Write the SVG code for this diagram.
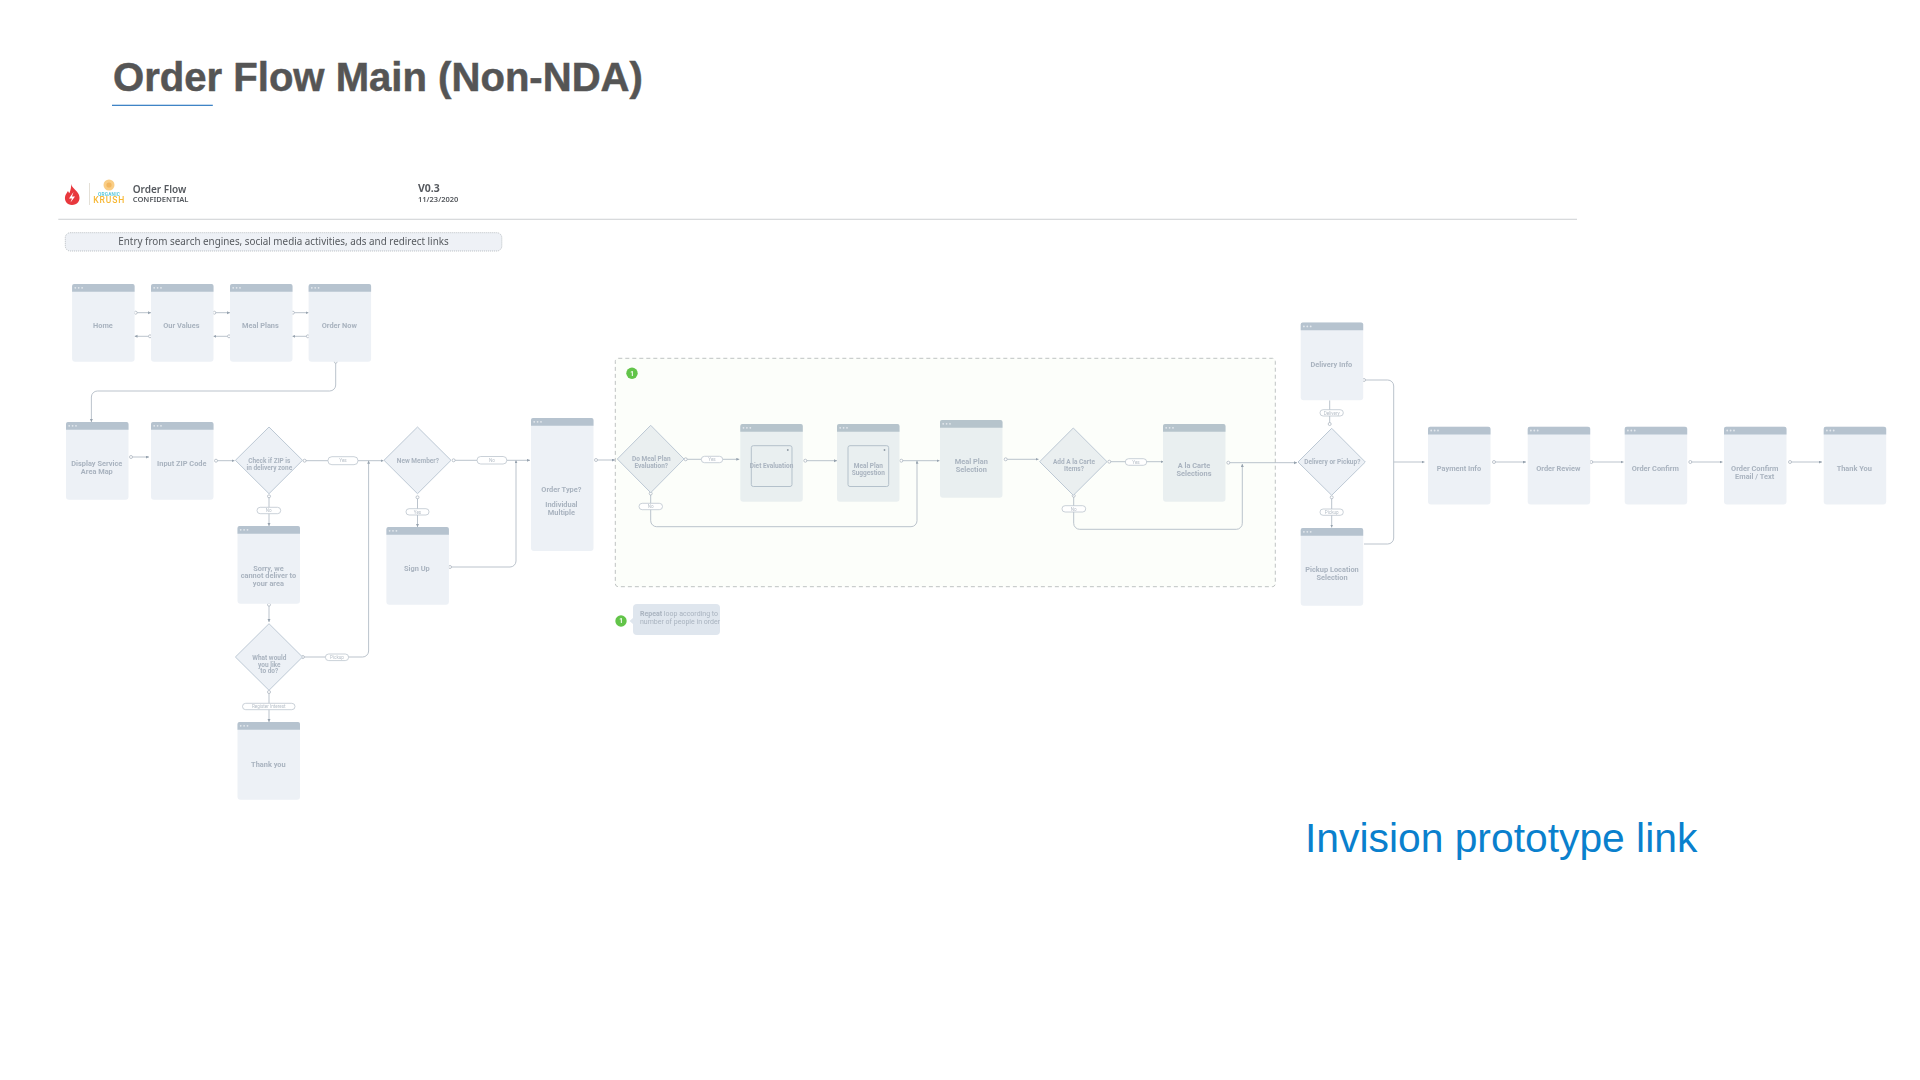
<svg xmlns="http://www.w3.org/2000/svg" width="1920" height="1080" viewBox="0 0 1920 1080">
<style>
text{font-family:"Roboto","Liberation Sans",sans-serif}
.t{font-size:7.4px;font-weight:700;fill:#a9b3bf;text-anchor:middle}
.d{font-size:6.5px;font-weight:700;fill:#a9b3bf;text-anchor:middle}
.c{fill:none;stroke:#b3bcc6;stroke-width:.9;marker-start:url(#o);marker-end:url(#a)}
.n{marker-end:none}
.p{fill:#fff;stroke:#bcc5ce;stroke-width:.8}
.l{font-size:4.6px;fill:#b8c0c9;text-anchor:middle}
.dia{fill:#edf1f6;stroke:#bcc8d4;stroke-width:1;stroke-linejoin:round}
.dt{fill:#eaeff0}
.title{font-family:"Liberation Sans",Arial,sans-serif;font-size:40.100px;font-weight:700;fill:#555;stroke:#555;stroke-width:.5}
.link{font-family:"Liberation Sans",Arial,sans-serif;font-size:40.800px;fill:#0a80cd}
.h{font-family:"Noto Sans","Liberation Sans",sans-serif;fill:#55595e}
.soft{filter:url(#soft)}
</style>
<defs>
<filter id="soft" filterUnits="userSpaceOnUse" x="0" y="0" width="1920" height="1080"><feGaussianBlur stdDeviation=".35"/></filter>
<marker id="a" markerUnits="userSpaceOnUse" markerWidth="4" markerHeight="4" refX="3" refY="1.5" orient="auto"><path d="M0 0L3 1.500L0 3z" fill="#96a2ae"/></marker>
<marker id="o" markerUnits="userSpaceOnUse" markerWidth="5" markerHeight="5" refX="2.500" refY="2.500" orient="auto"><circle cx="2.500" cy="2.500" r="1.500" fill="#fff" stroke="#a5afba" stroke-width=".7"/></marker>
<g id="bar"><circle cx="3.200" cy="3.800" r=".9"/><circle cx="6.600" cy="3.800" r=".9"/><circle cx="10" cy="3.800" r=".9"/></g>
<g id="screen"><rect width="62.500" height="77.700" rx="3" fill="#edf1f6"/><path d="M0 7.700V2a2 2 0 0 1 2-2h58.500a2 2 0 0 1 2 2v5.700z" fill="#b6c3cf"/><use href="#bar" fill="#e3e8ed"/></g>
<g id="tint"><rect width="62.500" height="77.700" rx="3" fill="#e9eff0"/><path d="M0 7.700V2a2 2 0 0 1 2-2h58.500a2 2 0 0 1 2 2v5.700z" fill="#b6c4cc"/><use href="#bar" fill="#e3e8ed"/></g>
<g id="panel"><rect x="11" y="21.700" width="40.700" height="40.800" rx="2" fill="none" stroke="#b4c1cb" stroke-width="1"/><circle cx="47.500" cy="26" r=".9" fill="#8e99a3"/></g>
</defs>
<rect width="1920" height="1080" fill="#fff"/>

<g id="title">
<text class="title" x="113" y="90.700">Order Flow Main (Non-NDA)</text>
<rect x="112" y="104.700" width="100.800" height="1.300" fill="#3f84c6"/>
</g>

<g id="diagram" class="soft">
<g id="header">
<path d="M71 184c1 4 6 6 8 11c2 6-2 10-7 10c-5 0-7.500-4-7-8c.5-3 2-4 3-6c.5 1 1 2 1.500 2c1-3 2-6 1.500-9z" fill="#e8383d"/>
<path d="M73.500 192l-4.500 6.500h3l-1.500 4l4.500-6h-3z" fill="#fff"/>
<rect x="89" y="183" width=".7" height="22" fill="#d9d3c6"/>
<circle cx="109" cy="185" r="5.500" fill="#f9cd85"/><circle cx="109" cy="185" r="2.600" fill="#f2b65e"/>
<text x="109" y="196" text-anchor="middle" font-size="4.800" font-weight="700" letter-spacing=".2" fill="#5cc8dc">ORGANIC</text>
<text x="109.200" y="203.300" text-anchor="middle" font-size="8.500" font-weight="500" letter-spacing=".9" fill="#f7b733">KRUSH</text>
<text class="h" x="132.700" y="192.700" font-size="10" font-weight="600">Order Flow</text>
<text class="h" x="132.700" y="202" font-size="7.600" font-weight="600">CONFIDENTIAL</text>
<text class="h" x="418" y="192.300" font-size="10.500" font-weight="700">V0.3</text>
<text class="h" x="418" y="201.700" font-size="7.500" font-weight="600">11/23/2020</text>
<rect x="58.300" y="218.700" width="1518.700" height="1.300" fill="#d8dadc"/>
</g>

<g id="entry">
<rect x="65.300" y="232.700" width="436.500" height="18.300" rx="5" fill="#eef1f6" stroke="#a8aeb4" stroke-width=".8" stroke-dasharray="1 1"/>
<text class="h" x="283.500" y="245" text-anchor="middle" font-size="9.850">Entry from search engines, social media activities, ads and redirect links</text>
</g>

<g id="loop-region">
<rect x="615.300" y="358.300" width="660" height="228.400" rx="3" fill="#fcfefa" stroke="#b8bcbc" stroke-width=".9" stroke-dasharray="4 3"/>
<circle cx="632" cy="373.300" r="5.700" fill="#62c448"/>
<text x="632" y="375.700" text-anchor="middle" font-size="6.500" font-weight="700" fill="#fff">1</text>
</g>

<g id="connectors">
<path class="c" d="M135.700 312.700H151"/><path class="c" d="M150 336.300H134.500"/>
<path class="c" d="M214.300 312.700H230"/><path class="c" d="M229 336.300H213.300"/>
<path class="c" d="M292.900 312.700H308.600"/><path class="c" d="M307.900 336.300H292.200"/>
<path class="c" d="M335.700 361.700V385a6 6 0 0 1-6 6H97.400a6 6 0 0 0-6 6V422"/>
<path class="c" d="M131 457H149"/>
<path class="c" d="M216 460.700H234.500"/>
<path class="c" d="M304.600 460.700H383.500"/>
<path class="c" d="M302.900 657H362.600a6 6 0 0 0 6-6V460.700"/>
<path class="c" d="M269 496.300V526"/>
<path class="c" d="M269 604.700V622"/>
<path class="c" d="M269 692V722"/>
<path class="c" d="M453.600 460.300H530"/>
<path class="c" d="M417.500 497.300V527"/>
<path class="c" d="M450 567H510a6 6 0 0 0 6-6V460.300"/>
<path class="c" d="M596 460H615"/>
<path class="c" d="M685.700 459.300H739.300"/>
<path class="c" d="M650.700 493.500V520.700a6 6 0 0 0 6 6H911a6 6 0 0 0 6-6V460.700"/>
<path class="c" d="M805.300 460.700H837"/>
<path class="c" d="M901.300 460.700H939.500"/>
<path class="c" d="M1005.700 459.300H1038.500"/>
<path class="c" d="M1109.300 461.700H1163.500"/>
<path class="c" d="M1073.700 495.700V523.300a6 6 0 0 0 6 6H1236.300a6 6 0 0 0 6-6V464"/>
<path class="c" d="M1228.300 462.700H1297"/>
<path class="c n" d="M1329.700 424V400.300"/>
<path class="c" d="M1331.700 497.300V527.500"/>
<path class="c n" d="M1364 380H1387.700a6 6 0 0 1 6 6V538a6 6 0 0 1-6 6H1364"/>
<path class="c" style="marker-start:none" d="M1393.700 462H1424.500"/>
<path class="c" d="M1494 462H1526"/>
<path class="c" d="M1591.300 462H1623.500"/>
<path class="c" d="M1690.300 462H1722.500"/>
<path class="c" d="M1790 462H1822"/>

<rect class="p" x="327.900" y="456.700" width="30.100" height="8" rx="4"/><text class="l" x="343" y="462.300">Yes</text>
<rect class="p" x="325.400" y="654" width="23.200" height="6.600" rx="3.300"/><text class="l" x="337" y="659">Pickup</text>
<rect class="p" x="257" y="507.300" width="23.700" height="6.400" rx="3.200"/><text class="l" x="268.800" y="512.200">No</text>
<rect class="p" x="242.500" y="703.300" width="52.500" height="6.400" rx="3.200"/><text class="l" x="268.800" y="708.200">Register Interest</text>
<rect class="p" x="477" y="456.500" width="29.800" height="7.500" rx="3.700"/><text class="l" x="491.900" y="461.900">No</text>
<rect class="p" x="406" y="508.700" width="23" height="6.300" rx="3.100"/><text class="l" x="417.500" y="513.500">Yes</text>
<rect class="p" x="701.300" y="456.300" width="21.400" height="6.400" rx="3.200"/><text class="l" x="712" y="461.200">Yes</text>
<rect class="p" x="639" y="503.300" width="23.500" height="6.400" rx="3.200"/><text class="l" x="650.700" y="508.200">No</text>
<rect class="p" x="1125.300" y="458.700" width="21.400" height="6.600" rx="3.300"/><text class="l" x="1136" y="463.700">Yes</text>
<rect class="p" x="1062" y="505.700" width="23.700" height="6.300" rx="3.100"/><text class="l" x="1073.800" y="510.500">No</text>
<rect class="p" x="1320" y="409.700" width="23.300" height="6.300" rx="3.100"/><text class="l" x="1331.700" y="414.500">Delivery</text>
<rect class="p" x="1320" y="509" width="23.300" height="6.300" rx="3.100"/><text class="l" x="1331.700" y="513.800">Pickup</text>
</g>

<g id="home"><use href="#screen" x="72.100" y="284"/><text class="t" x="102.900" y="328">Home</text></g>
<g id="our-values"><use href="#screen" x="151" y="284"/><text class="t" x="181.400" y="328">Our Values</text></g>
<g id="meal-plans"><use href="#screen" x="230" y="284"/><text class="t" x="260.400" y="328">Meal Plans</text></g>
<g id="order-now"><use href="#screen" x="308.600" y="284"/><text class="t" x="339.300" y="328">Order Now</text></g>
<g id="display-map"><use href="#screen" x="66" y="422"/><text class="t" x="96.800" y="466.300">Display Service</text><text class="t" x="96.800" y="474">Area Map</text></g>
<g id="input-zip"><use href="#screen" x="151" y="422"/><text class="t" x="181.800" y="466.300">Input ZIP Code</text></g>
<g id="check-zip"><path class="dia" d="M269 427L302.500 460.300L269 493.700L235.400 460.300z"/><text class="d" x="269.300" y="463">Check if ZIP is</text><text class="d" x="269.300" y="470">in delivery zone</text></g>
<g id="new-member"><path class="dia" d="M417.500 427L451 460.300L417.500 493.700L384 460.300z"/><text class="d" x="417.900" y="463">New Member?</text></g>
<g id="order-type"><rect x="531" y="418" width="62.500" height="133" rx="3" fill="#edf1f6"/><path d="M531 425.700V420a2 2 0 0 1 2-2h58.500a2 2 0 0 1 2 2v5.700z" fill="#b6c3cf"/><use href="#bar" x="531" y="418" fill="#e3e8ed"/><text class="t" x="561.400" y="491.500">Order Type?</text><text class="t" x="561.400" y="507">Individual</text><text class="t" x="561.400" y="514.500">Multiple</text></g>
<g id="sorry"><use href="#screen" x="237.500" y="526"/><text class="t" x="268.400" y="570.500">Sorry, we</text><text class="t" x="268.400" y="578.200">cannot deliver to</text><text class="t" x="268.400" y="585.800">your area</text></g>
<g id="sign-up"><use href="#screen" x="386.400" y="527"/><text class="t" x="416.800" y="571.200">Sign Up</text></g>
<g id="what-next"><path class="dia" d="M269 623.700L302.500 657L269 690.300L235.400 657z"/><text class="d" x="269.300" y="659.700">What would</text><text class="d" x="269.300" y="666.700">you like</text><text class="d" x="269.300" y="673.300">to do?</text></g>
<g id="thank-you-1"><use href="#screen" x="237.500" y="722"/><text class="t" x="268.400" y="766.500">Thank you</text></g>

<g id="meal-eval"><path class="dia dt" d="M650.700 425.300L684 459L650.700 492.700L617.300 459z"/><text class="d" x="651.300" y="461.300">Do Meal Plan</text><text class="d" x="651.300" y="468.300">Evaluation?</text></g>
<g id="diet-eval"><use href="#tint" x="740.300" y="424"/><use href="#panel" x="740.300" y="424"/><text class="d" x="771.500" y="468.300">Diet Evaluation</text></g>
<g id="meal-suggest"><use href="#tint" x="837" y="424"/><use href="#panel" x="837" y="424"/><text class="d" x="868.300" y="468.300">Meal Plan</text><text class="d" x="868.300" y="475">Suggestion</text></g>
<g id="meal-select"><use href="#tint" x="940" y="420"/><text class="t" x="971.300" y="464.200">Meal Plan</text><text class="t" x="971.300" y="472">Selection</text></g>
<g id="add-carte"><path class="dia dt" d="M1073.300 428L1107 461.700L1073.300 495.300L1039.700 461.700z"/><text class="d" x="1074" y="464">Add A la Carte</text><text class="d" x="1074" y="471">Items?</text></g>
<g id="carte-select"><use href="#tint" x="1163" y="424"/><text class="t" x="1194" y="468.200">A la Carte</text><text class="t" x="1194" y="475.800">Selections</text></g>

<g id="delivery-pickup"><path class="dia" d="M1331.700 428.300L1365.300 462L1331.700 495.300L1298 462z"/><text class="d" x="1332.300" y="464.300">Delivery or Pickup?</text></g>
<g id="delivery-info"><use href="#screen" x="1300.700" y="322.600"/><text class="t" x="1331.300" y="366.800">Delivery Info</text></g>
<g id="pickup-location"><use href="#screen" x="1300.700" y="528"/><text class="t" x="1332" y="572.200">Pickup Location</text><text class="t" x="1332" y="579.800">Selection</text></g>
<g id="payment"><use href="#screen" x="1428" y="426.700"/><text class="t" x="1459" y="470.800">Payment Info</text></g>
<g id="order-review"><use href="#screen" x="1527.700" y="426.700"/><text class="t" x="1558.300" y="470.800">Order Review</text></g>
<g id="order-confirm"><use href="#screen" x="1624.700" y="426.700"/><text class="t" x="1655.300" y="470.800">Order Confirm</text></g>
<g id="confirm-email"><use href="#screen" x="1724" y="426.700"/><text class="t" x="1754.700" y="470.800">Order Confirm</text><text class="t" x="1754.700" y="478.500">Email / Text</text></g>
<g id="thank-you-2"><use href="#screen" x="1823.700" y="426.700"/><text class="t" x="1854.300" y="470.800">Thank You</text></g>

<g id="loop-note">
<circle cx="621" cy="621" r="5.700" fill="#62c448"/>
<text x="621" y="623.400" text-anchor="middle" font-size="6.500" font-weight="700" fill="#fff">1</text>
<path d="M633 618L629.500 621L633 624z" fill="#dfe6ee"/>
<rect x="633" y="604" width="87" height="31" rx="4" fill="#dfe6ee"/>
<text x="640" y="616" font-size="7" fill="#a9b3bf"><tspan font-weight="700">Repeat</tspan> loop according to</text>
<text x="640" y="623.700" font-size="7" fill="#a9b3bf">number of people in order</text>
</g>
</g>

<g id="prototype-link"><text class="link" x="1305" y="852.300">Invision prototype link</text></g>
</svg>
